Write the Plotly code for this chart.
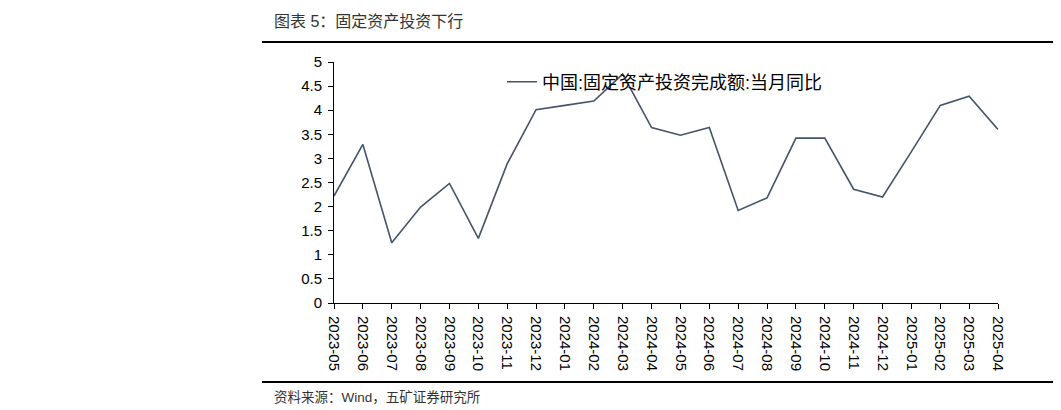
import plotly.graph_objects as go

months = ["2023-05", "2023-06", "2023-07", "2023-08", "2023-09", "2023-10",
          "2023-11", "2023-12", "2024-01", "2024-02", "2024-03", "2024-04",
          "2024-05", "2024-06", "2024-07", "2024-08", "2024-09", "2024-10",
          "2024-11", "2024-12", "2025-01", "2025-02", "2025-03", "2025-04"]
fai_yoy = [2.22, 3.29, 1.25, 1.99, 2.48, 1.34,
           2.89, 4.01, 4.10, 4.19, 4.75, 3.64,
           3.48, 3.64, 1.92, 2.18, 3.42, 3.42,
           2.36, 2.20, 3.14, 4.10, 4.29, 3.60]
y_ticks = [0, 0.5, 1, 1.5, 2, 2.5, 3, 3.5, 4, 4.5, 5]
series_name = "中国:固定资产投资完成额:当月同比"
title_text = "图表 5：固定资产投资下行"
source_text = "资料来源：Wind，五矿证券研究所"

OFF = 8  # page body margin of the browser
W, H = 1061 - OFF, 410 - OFF
# target positions in page pixels, converted to figure pixels
L, R, T, B = 334 - OFF, 998 - OFF, 62 - OFF, 303 - OFF
FONT = "Liberation Sans, Arial, Noto Sans CJK SC, sans-serif"


def px(xp):
    return (xp - OFF - L) / (R - L)


def py(yp):
    return (B - (yp - OFF)) / (B - T)


fig = go.Figure()
fig.add_trace(go.Scatter(
    x=months, y=fai_yoy, mode="lines", name=series_name,
    line=dict(color="#44546A", width=1.6),
))

fig.update_layout(
    width=W, height=H, autosize=False,
    margin=dict(l=L, r=W - R, t=T, b=H - B, pad=0),
    paper_bgcolor="white", plot_bgcolor="white",
    font=dict(family=FONT, color="#000000"),
    showlegend=True,
    legend=dict(
        x=px(502), y=py(82), xanchor="left", yanchor="middle",
        bgcolor="rgba(0,0,0,0)", borderwidth=0,
        font=dict(size=18, color="#000000", family=FONT),
    ),
    xaxis=dict(
        type="category", range=[0, len(months) - 1],
        showgrid=False, zeroline=False,
        showline=True, linecolor="#000000", linewidth=1,
        ticks="outside", ticklen=5, tickcolor="#000000",
        tickangle=90, tickfont=dict(size=15, color="#000000"),
        ticklabelstandoff=4,
        fixedrange=True,
    ),
    yaxis=dict(
        range=[0, 5], tickvals=y_ticks,
        showgrid=False, zeroline=False,
        showline=True, linecolor="#000000", linewidth=1,
        ticks="outside", ticklen=5, tickcolor="#000000",
        tickfont=dict(size=15, color="#000000"),
        ticklabelstandoff=3,
        fixedrange=True,
    ),
    shapes=[
        dict(type="line", xref="paper", yref="paper",
             x0=px(262), x1=px(1055), y0=py(42), y1=py(42),
             line=dict(color="#000000", width=1.8)),
        dict(type="line", xref="paper", yref="paper",
             x0=px(262), x1=px(1055), y0=py(382), y1=py(382),
             line=dict(color="#000000", width=1.8)),
    ],
    annotations=[
        dict(text=title_text, xref="paper", yref="paper",
             x=px(272), y=py(22), xanchor="left", yanchor="middle",
             showarrow=False, font=dict(size=16, color="#333333", family=FONT)),
        dict(text=source_text, xref="paper", yref="paper",
             x=px(272), y=py(397), xanchor="left", yanchor="middle",
             showarrow=False, font=dict(size=13.5, color="#333333", family=FONT)),
    ],
)

fig.write_html("out.html")
